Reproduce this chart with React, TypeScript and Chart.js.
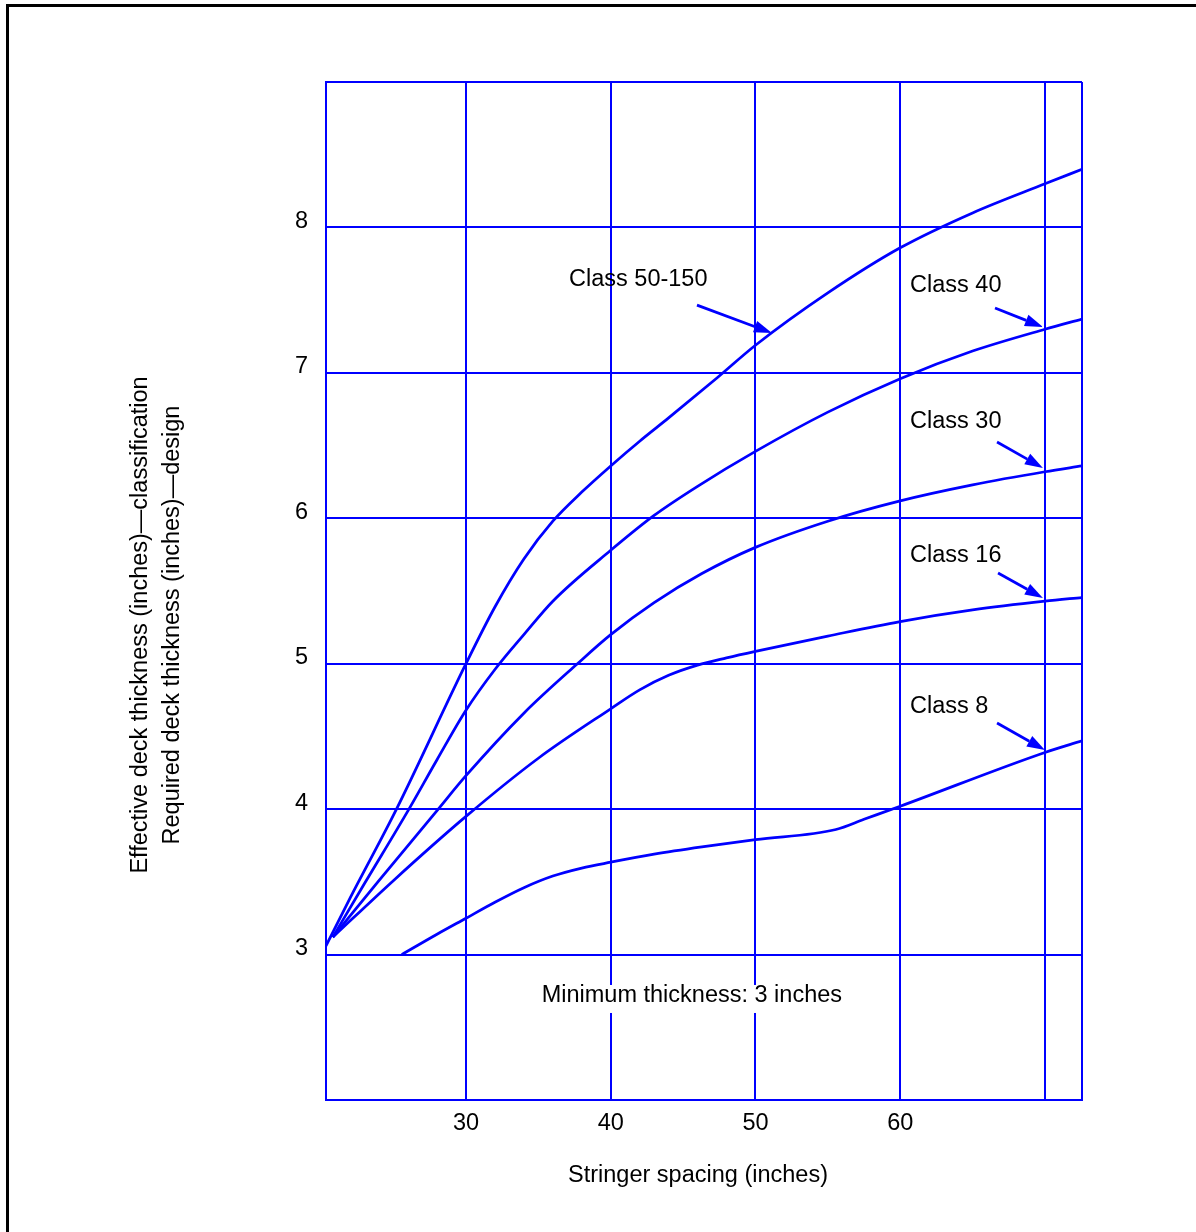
import React, { useEffect, useRef } from "react";
import { Chart, registerables } from "chart.js";
Chart.register(...registerables);

// ---- axis ranges & ticks ----
const xRange = [20.33, 72.56];
const yRange = [2, 9];
const xTickValues = [20.33, 30, 40, 50, 60, 70, 72.56];
const xTickLabels = ["", "30", "40", "50", "60", "", ""];
const yTickValues = [2, 3, 4, 5, 6, 7, 8, 9];
const yTickLabels = ["", "3", "4", "5", "6", "7", "8", ""];

// ---- series (stringer spacing in inches -> thickness in inches) ----
const class150X = [20.33, 22, 25.2, 30, 32, 34, 36, 38, 40, 42, 44, 47.4, 50, 55, 60, 65, 70, 72.56];
const class150Y = [3.06, 3.39, 4.0, 5.0, 5.39, 5.72, 5.98, 6.18, 6.36, 6.53, 6.69, 6.97, 7.19, 7.55, 7.86, 8.1, 8.3, 8.4];

const class40X = [20.8, 23, 26, 28, 30, 32, 34, 36, 40, 43, 46, 50, 55, 60, 65, 70, 72.56];
const class40Y = [3.12, 3.49, 3.99, 4.34, 4.68, 4.96, 5.2, 5.43, 5.78, 6.02, 6.22, 6.46, 6.73, 6.96, 7.15, 7.3, 7.37];

const class30X = [20.8, 24, 28, 30, 34, 37.7, 40, 43, 46.3, 50, 55, 60, 65, 70, 72.56];
const class30Y = [3.12, 3.51, 3.99, 4.23, 4.66, 5.0, 5.2, 5.42, 5.62, 5.8, 5.98, 6.12, 6.23, 6.32, 6.36];

const class16X = [20.8, 25, 30, 35, 40, 42, 44, 46, 48, 50, 55, 60, 65, 70, 72.56];
const class16Y = [3.12, 3.51, 3.95, 4.35, 4.69, 4.82, 4.92, 4.99, 5.04, 5.085, 5.19, 5.29, 5.37, 5.43, 5.455];

const class8X = [25.56, 28, 30, 32, 34, 36, 38, 40, 43, 46.3, 50, 55.56, 57.5, 60, 70, 72.56];
const class8Y = [3.0, 3.14, 3.25, 3.36, 3.46, 3.54, 3.595, 3.635, 3.69, 3.74, 3.79, 3.86, 3.93, 4.02, 4.39, 4.47];

const seriesNames = ["Class 50-150", "Class 40", "Class 30", "Class 16", "Class 8"];
const seriesX = [class150X, class40X, class30X, class16X, class8X];
const seriesY = [class150Y, class40Y, class30Y, class16Y, class8Y];

// ---- annotations (data coordinates) ----
const labelTexts = ["Class 50-150", "Class 40", "Class 30", "Class 16", "Class 8"];
const labelX = [37.12, 60.68, 60.68, 60.68, 60.68];
const labelY = [7.597, 7.556, 6.621, 5.699, 4.661];
const arrowFromX = [45.96, 66.55, 66.69, 66.76, 66.69];
const arrowFromY = [7.466, 7.446, 6.525, 5.624, 4.592];
const arrowToX = [51.14, 69.86, 69.86, 69.86, 70.0];
const arrowToY = [7.274, 7.315, 6.346, 5.452, 4.406];
const minNote = "Minimum thickness: 3 inches";
const minNoteX = 35.23;
const minNoteY = 2.674;

const xTitle = "Stringer spacing (inches)";
const yTitle1 = "Effective deck thickness (inches)\u2014classification";
const yTitle2 = "Required deck thickness (inches)\u2014design";

const BLUE = "#0000ff";
const FONT_FAMILY = "'Liberation Sans', Arial, Helvetica, sans-serif";
const FONT_SIZE = 23.5;

const decorPlugin = {
  id: "decor",
  beforeDraw(chart: any) {
    const ctx = chart.ctx;
    ctx.save();
    ctx.fillStyle = "#ffffff";
    ctx.fillRect(0, 0, chart.width, chart.height);
    ctx.fillStyle = "#000000";
    ctx.fillRect(6, 4, 3, chart.height);
    ctx.fillRect(6, 4, chart.width, 3);
    ctx.restore();
  },
  afterDatasetsDraw(chart: any) {
    const ctx = chart.ctx;
    const xs = chart.scales.x;
    const ys = chart.scales.y;
    ctx.save();
    ctx.font = `${FONT_SIZE}px ${FONT_FAMILY}`;
    ctx.textBaseline = "alphabetic";
    ctx.textAlign = "left";
    ctx.fillStyle = "#000";
    for (let i = 0; i < labelTexts.length; i++) {
      ctx.fillText(labelTexts[i], xs.getPixelForValue(labelX[i]), ys.getPixelForValue(labelY[i]));
      const x0 = xs.getPixelForValue(arrowFromX[i]);
      const y0 = ys.getPixelForValue(arrowFromY[i]);
      const x1 = xs.getPixelForValue(arrowToX[i]);
      const y1 = ys.getPixelForValue(arrowToY[i]);
      const ang = Math.atan2(y1 - y0, x1 - x0);
      const len = 18;
      const hw = 6;
      const bx = x1 - len * Math.cos(ang);
      const by = y1 - len * Math.sin(ang);
      ctx.strokeStyle = BLUE;
      ctx.lineWidth = 2.75;
      ctx.beginPath();
      ctx.moveTo(x0, y0);
      ctx.lineTo(bx, by);
      ctx.stroke();
      ctx.fillStyle = BLUE;
      ctx.beginPath();
      ctx.moveTo(x1, y1);
      ctx.lineTo(bx + hw * Math.sin(ang), by - hw * Math.cos(ang));
      ctx.lineTo(bx - hw * Math.sin(ang), by + hw * Math.cos(ang));
      ctx.closePath();
      ctx.fill();
      ctx.fillStyle = "#000";
    }
    // minimum thickness note with white background
    const mx = xs.getPixelForValue(minNoteX);
    const my = ys.getPixelForValue(minNoteY);
    const w = ctx.measureText(minNote).width;
    ctx.fillStyle = "#ffffff";
    ctx.fillRect(mx - 4, my - 17, w + 8, 28);
    ctx.fillStyle = "#000";
    ctx.fillText(minNote, mx, my);

    // axis titles
    ctx.textAlign = "center";
    ctx.fillText(xTitle, (chart.chartArea.left + chart.chartArea.right) / 2 - 6, 1182);
    ctx.save();
    ctx.translate(147, 625);
    ctx.rotate(-Math.PI / 2);
    ctx.fillText(yTitle1, 0, 0);
    ctx.restore();
    ctx.save();
    ctx.translate(179, 625);
    ctx.rotate(-Math.PI / 2);
    ctx.fillText(yTitle2, 0, 0);
    ctx.restore();
    ctx.restore();
  },
};

export default function App() {
  const ref = useRef<HTMLCanvasElement>(null);
  useEffect(() => {
    const canvas = ref.current;
    if (!canvas) return;
    const font = { family: FONT_FAMILY, size: FONT_SIZE };
    const chart = new Chart(canvas, {
      type: "line",
      data: {
        datasets: seriesNames.map((name, k) => ({
          label: name,
          data: seriesX[k].map((x, i) => ({ x, y: seriesY[k][i] })),
          borderColor: BLUE,
          backgroundColor: BLUE,
          borderWidth: 2.75,
          pointRadius: 0,
          fill: false,
          cubicInterpolationMode: "monotone" as const,
        })),
      },
      options: {
        animation: false,
        responsive: false,
        devicePixelRatio: 1,
        layout: { padding: { left: 0, top: 82, right: 114, bottom: 72 } },
        plugins: {
          legend: { display: false },
          tooltip: { enabled: false },
        },
        scales: {
          x: {
            type: "linear",
            min: xRange[0],
            max: xRange[1],
            afterBuildTicks: (s: any) => {
              s.ticks = xTickValues.map((v) => ({ value: v }));
            },
            afterFit: (s: any) => {
              s.height = 60;
            },
            grid: { color: BLUE, lineWidth: 2, drawTicks: false },
            border: { color: BLUE, width: 2 },
            ticks: {
              callback: (_v: any, i: number) => xTickLabels[i],
              font,
              color: "#000",
              padding: 9,
              maxRotation: 0,
              autoSkip: false,
            },
          },
          y: {
            type: "linear",
            min: yRange[0],
            max: yRange[1],
            afterBuildTicks: (s: any) => {
              s.ticks = yTickValues.map((v) => ({ value: v }));
            },
            afterFit: (s: any) => {
              s.width = 326;
            },
            grid: { color: BLUE, lineWidth: 2, drawTicks: false },
            border: { color: BLUE, width: 2 },
            ticks: {
              callback: (_v: any, i: number) => yTickLabels[i],
              font,
              color: "#000",
              padding: 18,
              labelOffset: -6,
              autoSkip: false,
            },
          },
        },
      },
      plugins: [decorPlugin],
    });
    return () => chart.destroy();
  }, []);
  return (
    <div style={{ position: "absolute", left: 0, top: 0, width: 1196, height: 1232, background: "#fff" }}>
      <canvas ref={ref} width={1196} height={1232} style={{ display: "block" }} />
    </div>
  );
}
